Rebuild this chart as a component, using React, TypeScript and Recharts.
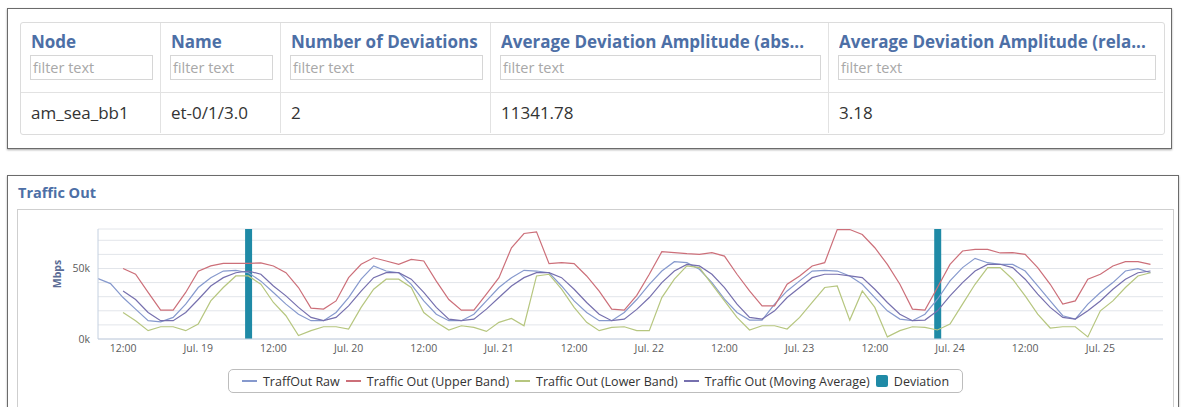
import React from 'react';
import { ComposedChart, Line, Bar, XAxis, YAxis, CartesianGrid } from 'recharts';

// hours since Jul. 18 00:00, sampled every 2h
const hours = [
  8, 10, 12, 14, 16, 18, 20, 22, 24, 26, 28, 30, 32, 34, 36, 38, 40, 42, 44, 46, 48,
  50, 52, 54, 56, 58, 60, 62, 64, 66, 68, 70, 72, 74, 76, 78, 80, 82, 84, 86, 88,
  90, 92, 94, 96, 98, 100, 102, 104, 106, 108, 110, 112, 114, 116, 118, 120, 122, 124, 126, 128,
  130, 132, 134, 136, 138, 140, 142, 144, 146, 148, 150, 152, 154, 156, 158, 160, 162, 164, 166, 168,
  170, 172, 174, 176,
];

// values in thousands (Mbps)
const trafficRaw = [
  42.8, 39.3, 29.4, 21.2, 13, 12.2, 15.3, 24.7, 36.5, 43.5, 48.2, 48.7, 47, 41, 33, 24.7, 17.6, 13, 13, 18.8, 29.4,
  42.4, 51.8, 48.2, 47, 38.8, 27, 17.6, 13, 13, 17.6, 27, 36.5, 43.5, 48.7, 48.2, 47, 37.6, 27, 18.8, 13,
  13, 18.8, 28, 38.8, 48.2, 54.8, 54.1, 49.4, 40, 28.2, 18.8, 13.4, 13.4, 24.7, 34.1, 41.2, 48.2, 48.7, 48.2, 44.7,
  38.8, 29.4, 20, 14.1, 13, 17.6, 28.2, 41.2, 50.6, 57.2, 54.1, 52.9, 52.9, 48.2, 37.6, 27, 16.5, 14.1, 24.7, 33,
  40, 48.2, 49.9, 47,
];

const upperBand = [
  null, null, 50, 45.9, 33, 20.5, 20.5, 33, 48, 51.8, 53.6, 53.6, 53.6, 54, 51.8, 47, 36.5, 21.9, 21.2, 27, 43.5,
  53, 57.6, 55.3, 53, 56.5, 55.3, 41, 28, 20.5, 20.5, 31.8, 43.5, 64.7, 74.8, 76, 53.4, 54.1, 53.4, 44.7, 34,
  21.2, 20.5, 31, 45.9, 61.9, 61.2, 60.5, 60, 61.2, 58.8, 45.9, 34.1, 23.5, 23.5, 38.8, 44.7, 51.8, 54.1, 77.6, 77.6,
  74.1, 64.7, 52.9, 38.8, 21.2, 20.5, 36.5, 52.9, 62.4, 63.5, 63.5, 61, 61.2, 60, 50.6, 38.8, 24.7, 27, 42.4, 45.9,
  51.8, 54.8, 54.8, 52.9,
];

const lowerBand = [
  null, null, 18.8, 13, 5.9, 8.7, 8.7, 5.9, 10.6, 27, 36.5, 44.7, 44.7, 38.8, 25.9, 16.5, 2.4, 5.9, 8.7, 8.7, 7,
  22.4, 35.3, 42.4, 42.4, 36.5, 18.8, 11.8, 6.4, 9.4, 8.2, 5.4, 11.8, 14.6, 9.4, 44.7, 45.9, 35.3, 22.4, 11.8, 5.9,
  8.2, 8.7, 5.9, 5.9, 29.4, 42.4, 51.8, 50.6, 38.8, 27, 15.3, 6.4, 9.4, 9.4, 7.1, 15.3, 25.9, 36.5, 37.6, 13.4,
  34.1, 22.4, 1.5, 5.9, 8.7, 8.2, 6.4, 10.6, 24.7, 38.8, 50.6, 50.6, 42.4, 30.6, 17.6, 7.8, 8.7, 8.7, 1.5, 20,
  27, 36.5, 44.7, 47,
];

const movingAverage = [
  null, null, 34, 28, 18.8, 13, 13, 18.8, 28, 37.6, 43.5, 47, 48.2, 45.9, 37.6, 30.6, 22.4, 15.3, 13, 15.3, 23.5,
  34, 43.5, 47, 47, 42.4, 33, 22.4, 14.1, 13, 14.1, 21.2, 29.4, 37.6, 43.5, 47, 47, 43.5, 35.3, 25.9, 17.6,
  13, 14.1, 21, 29.4, 40, 48.2, 52.9, 51.8, 45.9, 36.5, 24.7, 15.3, 14.1, 20, 29.4, 36.5, 43.5, 45.9, 45.9, 44.7,
  43.5, 35.3, 25.9, 17.6, 13, 13.4, 20, 30.6, 40, 48.2, 52.9, 53, 50.6, 42.4, 31.8, 22.4, 15.3, 14.1, 20, 27,
  35.3, 42.4, 47, 48.2,
];

const deviationHours = [32, 142];
const deviationLevel = 78;

const xTicks = [12, 24, 36, 48, 60, 72, 84, 96, 108, 120, 132, 144, 156, 168];
const yTicks = [0, 10, 20, 30, 40, 50, 60, 70];
const yLabelled = [0, 50];

const tableColumns = [
  'Node',
  'Name',
  'Number of Deviations',
  'Average Deviation Amplitude (abs...',
  'Average Deviation Amplitude (rela...',
];
const tableRow = ['am_sea_bb1', 'et-0/1/3.0', '2', '11341.78', '3.18'];
const columnWidths = [140, 120, 210, 338, 335];

const series = [
  { key: 'raw', name: 'TraffOut Raw', color: '#8699cd' },
  { key: 'upper', name: 'Traffic Out (Upper Band)', color: '#cc6f79' },
  { key: 'lower', name: 'Traffic Out (Lower Band)', color: '#b6c67f' },
  { key: 'ma', name: 'Traffic Out (Moving Average)', color: '#7670ae' },
];
const deviationColor = '#1f8aa6';

const data = hours.map((h, i) => ({
  h,
  raw: trafficRaw[i],
  upper: upperBand[i],
  lower: lowerBand[i],
  ma: movingAverage[i],
  dev: deviationHours.includes(h) ? deviationLevel : null,
}));

const formatHour = (h: number) => (h % 24 === 0 ? `Jul. ${18 + h / 24}` : '12:00');

const DeviationTable = () => {
  let left = 20;
  const cells = columnWidths.map((w, i) => {
    const x = left;
    left += w;
    return { x, w, title: tableColumns[i], value: tableRow[i] };
  });
  return (
    <>
      <div
        style={{
          position: 'absolute', left: 7, top: 8, width: 1163, height: 139,
          border: '1px solid #6b6b6b', boxShadow: '0 1px 2px rgba(0,0,0,0.35)', background: '#fff',
        }}
      />
      <div
        style={{
          position: 'absolute', left: 20, top: 22, width: 1143, height: 111,
          border: '1px solid #dcdcdc', borderRadius: 3, background: '#fff',
        }}
      />
      <div style={{ position: 'absolute', left: 21, top: 92, width: 1142, height: 1, background: '#e2e2e2' }} />
      {cells.map((c, i) => (
        <React.Fragment key={c.title}>
          {i > 0 && (
            <div style={{ position: 'absolute', left: c.x, top: 23, width: 1, height: 110, background: '#e2e2e2' }} />
          )}
          <div
            style={{
              position: 'absolute', left: c.x + 11, top: 31, width: c.w - 14, whiteSpace: 'nowrap',
              overflow: 'hidden', fontSize: 17, fontWeight: 700, color: '#4d6fa6', lineHeight: '22px',
            }}
          >
            {c.title}
          </div>
          <div
            style={{
              position: 'absolute', left: c.x + 10, top: 55, width: c.w - 17, height: 25,
              border: '1px solid #d6d6d6', background: '#fff', boxSizing: 'border-box',
              fontSize: 14.5, color: '#a8a8a8', lineHeight: '23px', paddingLeft: 2, whiteSpace: 'nowrap',
            }}
          >
            filter text
          </div>
          <div
            style={{
              position: 'absolute', left: c.x + 11, top: 102, fontSize: 17, color: '#333',
              lineHeight: '22px', whiteSpace: 'nowrap',
            }}
          >
            {c.value}
          </div>
        </React.Fragment>
      ))}
    </>
  );
};

const MbpsLabel = (props: any) => {
  const vb = props.viewBox || { x: 0, y: 0, width: 0, height: 0 };
  const cx = vb.x + 40;
  const cy = vb.y + vb.height / 2 - 10;
  return (
    <text
      x={cx}
      y={cy}
      transform={`rotate(-90 ${cx} ${cy})`}
      textAnchor="middle"
      dominantBaseline="central"
      fontSize={10.5}
      fontWeight={700}
      fill="#5a6b94"
    >
      Mbps
    </text>
  );
};

const LegendBox = () => (
  <div
    style={{
      position: 'absolute', left: 228, top: 369, width: 735, height: 24, boxSizing: 'border-box',
      border: '1px solid #bdbdbd', borderRadius: 5, display: 'flex', alignItems: 'center',
      justifyContent: 'center', fontSize: 12.5, color: '#333', whiteSpace: 'nowrap',
    }}
  >
    {series.map((s) => (
      <span key={s.key} style={{ display: 'flex', alignItems: 'center', marginRight: 6 }}>
        <span style={{ display: 'inline-block', width: 15, height: 1.5, background: s.color, marginRight: 6 }} />
        {s.name}
      </span>
    ))}
    <span style={{ display: 'flex', alignItems: 'center' }}>
      <span
        style={{ display: 'inline-block', width: 12, height: 12, background: deviationColor, borderRadius: 2, marginRight: 6 }}
      />
      Deviation
    </span>
  </div>
);

const TrafficPanel = () => (
  <>
    <div
      style={{
        position: 'absolute', left: 7, top: 175, width: 1170, height: 260,
        border: '1px solid #6b6b6b', boxShadow: '0 1px 2px rgba(0,0,0,0.3)', background: '#fff',
      }}
    />
    <div
      style={{
        position: 'absolute', left: 18, top: 184, fontSize: 14.5, fontWeight: 700, color: '#4d6fa6',
        lineHeight: '18px',
      }}
    >
      Traffic Out
    </div>
    <div
      style={{
        position: 'absolute', left: 17, top: 209, width: 1155, height: 220,
        border: '1px solid #cfcfcf', background: '#fff',
      }}
    />
    <div style={{ position: 'absolute', left: 17, top: 210 }}>
      <ComposedChart width={1156} height={195} data={data} margin={{ top: 19, right: 10, bottom: 36, left: 0 }}>
        <CartesianGrid horizontal vertical={false} stroke="#e2e5ea" />
        <XAxis
          dataKey="h"
          type="number"
          domain={[8, 178]}
          ticks={xTicks}
          tickFormatter={formatHour}
          height={30}
          tickLine={false}
          tickSize={0}
          tickMargin={6}
          axisLine={{ stroke: '#c4d0e0' }}
          tick={{ fontSize: 10.5, fill: '#5c5c5c' }}
          allowDataOverflow
        />
        <YAxis
          type="number"
          domain={[0, 78]}
          ticks={yTicks}
          width={81}
          tickLine={false}
          tickSize={0}
          tickMargin={8}
          axisLine={{ stroke: '#c4d0e0' }}
          tick={{ fontSize: 10.5, fill: '#5c5c5c' }}
          tickFormatter={(v: number) => (yLabelled.includes(v) ? `${v}k` : '')}
          label={<MbpsLabel />}
        />
        <Bar dataKey="dev" fill={deviationColor} barSize={7} isAnimationActive={false} />
        {series.map((s) => (
          <Line
            key={s.key}
            type="linear"
            dataKey={s.key}
            stroke={s.color}
            strokeWidth={1.2}
            dot={false}
            activeDot={false}
            isAnimationActive={false}
          />
        ))}
      </ComposedChart>
    </div>
    <LegendBox />
  </>
);

export default function App() {
  return (
    <div
      style={{
        position: 'fixed', left: 0, top: 0, width: 1183, height: 407, background: '#fff', overflow: 'hidden',
        fontFamily: '"Open Sans", "DejaVu Sans", sans-serif',
      }}
    >
      <DeviationTable />
      <TrafficPanel />
    </div>
  );
}
